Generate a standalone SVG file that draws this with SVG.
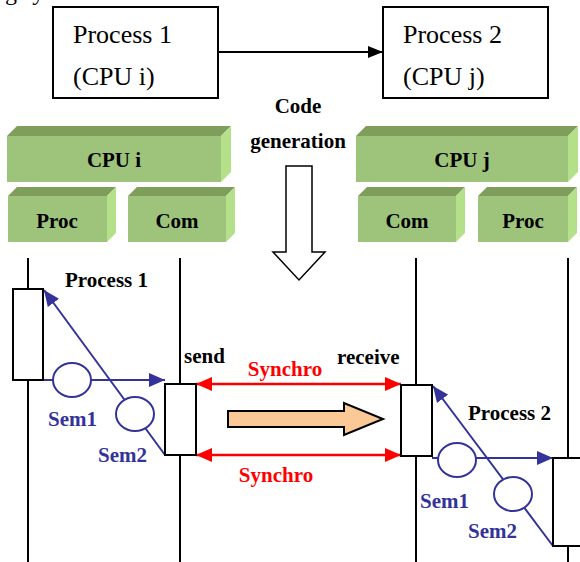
<svg xmlns="http://www.w3.org/2000/svg" width="580" height="562" viewBox="0 0 580 562">
<style>
.serif{font-family:"Liberation Serif","Times New Roman",serif}
.big{font-size:26px;fill:#000}
.lbl{font-size:21px;font-weight:bold;fill:#000}
.blue{fill:#333399}
.red{fill:#ff0000}
.box{fill:#fff;stroke:#000;stroke-width:2}
.life{stroke:#000;stroke-width:2}
.front{fill:#9dc47a}
.top{fill:#7f9e5c}
.side{fill:#b4e08a}
.bl{stroke:#333399;stroke-width:2;fill:none}
.sem{stroke:#333399;stroke-width:2;fill:#fff}
.rl{stroke:#ff0000;stroke-width:2.5;fill:none}
</style>
<defs>
<marker id="ab" viewBox="0 0 15 12" refX="15" refY="6" markerWidth="15" markerHeight="12" markerUnits="userSpaceOnUse" orient="auto-start-reverse"><path d="M0,0 L15,6 L0,12 Z" fill="#000"/></marker>
<marker id="abl" viewBox="0 0 16 14" refX="16" refY="7" markerWidth="16" markerHeight="14" markerUnits="userSpaceOnUse" orient="auto-start-reverse"><path d="M0,0 L16,7 L0,14 Z" fill="#333399"/></marker>
<marker id="ar" viewBox="0 0 16 14" refX="16" refY="7" markerWidth="16" markerHeight="14" markerUnits="userSpaceOnUse" orient="auto-start-reverse"><path d="M0,0 L16,7 L0,14 Z" fill="#ff0000"/></marker>
</defs>
<rect width="580" height="562" fill="#fff"/>
<text class="serif" x="5" y="0" font-size="24">g system.</text>

<g id="process1-top">
<rect x="53" y="7" width="165" height="91" class="box"/>
<text class="serif big" x="73" y="43">Process 1</text>
<text class="serif big" x="73" y="85">(CPU i)</text>
</g>
<g id="process2-top">
<rect x="383" y="7" width="165" height="91" class="box"/>
<text class="serif big" x="403" y="43">Process 2</text>
<text class="serif big" x="403" y="85">(CPU j)</text>
</g>

<g id="codegen">
<text class="serif lbl" x="298" y="113" text-anchor="middle">Code</text>
<text class="serif lbl" x="298" y="148" text-anchor="middle">generation</text>
<path d="M286,166 L312,166 L312,252 L325,252 L299,280 L273,252 L286,252 Z" fill="#fff" stroke="#000" stroke-width="1.5"/>
</g>

<g id="cpu-i">
<rect x="7" y="136" width="214" height="46" class="front"/>
<path d="M7,136 L17,126 L231,126 L221,136 Z" class="top"/>
<path d="M221,136 L231,126 L231,172 L221,182 Z" class="side"/>
<text class="serif lbl" x="114" y="167" text-anchor="middle">CPU i</text>
</g>
<g id="proc-i">
<rect x="8" y="196" width="99" height="46" class="front"/>
<path d="M8,196 L17,187 L116,187 L107,196 Z" class="top"/>
<path d="M107,196 L116,187 L116,233 L107,242 Z" class="side"/>
<text class="serif lbl" x="57" y="228" text-anchor="middle">Proc</text>
</g>
<g id="com-i">
<rect x="128" y="196" width="98" height="46" class="front"/>
<path d="M128,196 L137,187 L235,187 L226,196 Z" class="top"/>
<path d="M226,196 L235,187 L235,233 L226,242 Z" class="side"/>
<text class="serif lbl" x="177" y="228" text-anchor="middle">Com</text>
</g>
<g id="cpu-j">
<rect x="356" y="136" width="212" height="46" class="front"/>
<path d="M356,136 L366,126 L578,126 L568,136 Z" class="top"/>
<path d="M568,136 L578,126 L578,172 L568,182 Z" class="side"/>
<text class="serif lbl" x="462" y="167" text-anchor="middle">CPU j</text>
</g>
<g id="com-j">
<rect x="358" y="196" width="98" height="46" class="front"/>
<path d="M358,196 L367,187 L465,187 L456,196 Z" class="top"/>
<path d="M456,196 L465,187 L465,233 L456,242 Z" class="side"/>
<text class="serif lbl" x="407" y="228" text-anchor="middle">Com</text>
</g>
<g id="proc-j">
<rect x="478" y="196" width="90" height="46" class="front"/>
<path d="M478,196 L487,187 L577,187 L568,196 Z" class="top"/>
<path d="M568,196 L577,187 L577,233 L568,242 Z" class="side"/>
<text class="serif lbl" x="523" y="228" text-anchor="middle">Proc</text>
</g>

<g id="lifelines">
<line x1="28" y1="258" x2="28" y2="562" class="life"/>
<line x1="180" y1="258" x2="180" y2="562" class="life"/>
<line x1="416" y1="258" x2="416" y2="562" class="life"/>
<line x1="568" y1="258" x2="568" y2="562" class="life"/>
</g>

<g id="connectors">
<line x1="218" y1="52" x2="383" y2="52" stroke="#000" stroke-width="2" marker-end="url(#ab)"/>
<line x1="43" y1="380" x2="165" y2="380" class="bl" marker-end="url(#abl)"/>
<line x1="165" y1="455" x2="44" y2="290" class="bl" marker-end="url(#abl)"/>
<line x1="432" y1="458" x2="553" y2="458" class="bl" marker-end="url(#abl)"/>
<line x1="553" y1="546" x2="433" y2="386" class="bl" marker-end="url(#abl)"/>
<line x1="196" y1="384" x2="401" y2="384" class="rl" marker-start="url(#ar)" marker-end="url(#ar)"/>
<line x1="196" y1="455" x2="401" y2="455" class="rl" marker-start="url(#ar)" marker-end="url(#ar)"/>
<path d="M228,411 L344,411 L344,403 L383,419 L344,435 L344,427 L228,427 Z" fill="#fbc996" stroke="#000" stroke-width="2"/>
</g>

<g id="process1">
<rect x="13" y="289" width="30" height="91" class="box"/>
<text class="serif lbl" x="65" y="287">Process 1</text>
</g>
<g id="sem1-left">
<ellipse cx="72" cy="380" rx="19" ry="17" class="sem"/>
<text class="serif lbl blue" x="48" y="426">Sem1</text>
</g>
<g id="sem2-left">
<ellipse cx="135" cy="414" rx="19" ry="17" class="sem"/>
<text class="serif lbl blue" x="98" y="462">Sem2</text>
</g>
<g id="send">
<rect x="165" y="384" width="31" height="71" class="box"/>
<text class="serif lbl" x="184" y="363">send</text>
</g>
<g id="receive">
<rect x="401" y="385" width="31" height="71" class="box"/>
<text class="serif lbl" x="337" y="364">receive</text>
</g>
<g id="synchro-labels">
<text class="serif lbl red" x="285" y="376" text-anchor="middle">Synchro</text>
<text class="serif lbl red" x="276" y="482" text-anchor="middle">Synchro</text>
</g>
<g id="process2">
<rect x="553" y="458" width="40" height="88" class="box"/>
<text class="serif lbl" x="468" y="420">Process 2</text>
</g>
<g id="sem1-right">
<ellipse cx="457" cy="460" rx="19" ry="17" class="sem"/>
<text class="serif lbl blue" x="420" y="508">Sem1</text>
</g>
<g id="sem2-right">
<ellipse cx="513" cy="494" rx="19" ry="17" class="sem"/>
<text class="serif lbl blue" x="468" y="538">Sem2</text>
</g>
</svg>
